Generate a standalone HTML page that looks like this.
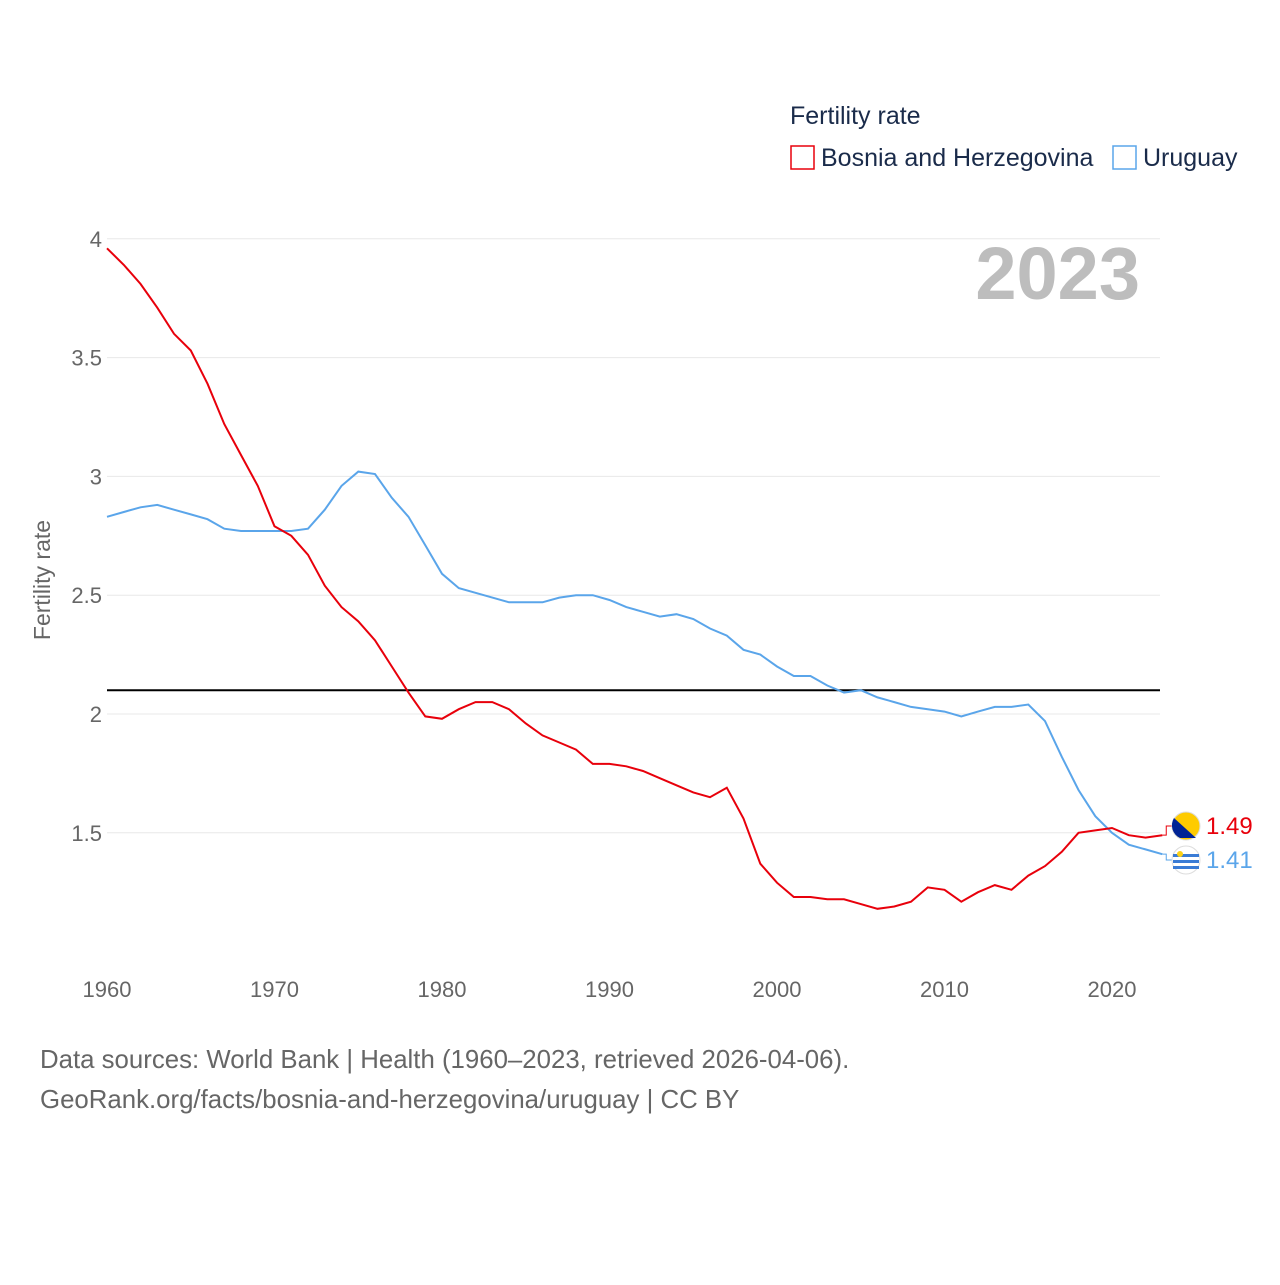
<!DOCTYPE html>
<html><head><meta charset="utf-8"><style>
body{margin:0;background:#fff;}
svg text{font-family:"Liberation Sans",sans-serif;}
</style></head><body>
<svg width="1280" height="1280" viewBox="0 0 1280 1280">
<g id="grid"></g>
<g id="lines"></g>
<text x="790" y="124" font-size="25" fill="#1a2b4a">Fertility rate</text>
<g><rect x="791" y="146" width="23" height="23" fill="none" stroke="#e8000b" stroke-width="1.5"/><text x="821" y="166" font-size="25" fill="#1a2b4a">Bosnia and Herzegovina</text></g>
<g><rect x="1113" y="146" width="23" height="23" fill="none" stroke="#5aa5ea" stroke-width="1.5"/><text x="1143" y="166" font-size="25" fill="#1a2b4a">Uruguay</text></g>
<text x="1140" y="299" font-size="74" font-weight="bold" fill="#bdbdbd" text-anchor="end">2023</text>
<text transform="translate(50,580) rotate(-90)" font-size="23" fill="#666" text-anchor="middle">Fertility rate</text>
<text x="40" y="1068" font-size="25.8" fill="#666">Data sources: World Bank | Health (1960–2023, retrieved 2026-04-06).</text>
<text x="40" y="1108" font-size="25.8" fill="#666">GeoRank.org/facts/bosnia-and-herzegovina/uruguay | CC BY</text>
</svg>
<script>
const years=[];for(let y=1960;y<=2023;y++)years.push(y);
const bosnia=[3.96,3.89,3.81,3.71,3.60,3.53,3.39,3.22,3.09,2.96,2.79,2.75,2.67,2.54,2.45,2.39,2.31,2.20,2.09,1.99,1.98,2.02,2.05,2.05,2.02,1.96,1.91,1.88,1.85,1.79,1.79,1.78,1.76,1.73,1.70,1.67,1.65,1.69,1.56,1.37,1.29,1.23,1.23,1.22,1.22,1.20,1.18,1.19,1.21,1.27,1.26,1.21,1.25,1.28,1.26,1.32,1.36,1.42,1.50,1.51,1.52,1.49,1.48,1.49];
const uruguay=[2.83,2.85,2.87,2.88,2.86,2.84,2.82,2.78,2.77,2.77,2.77,2.77,2.78,2.86,2.96,3.02,3.01,2.91,2.83,2.71,2.59,2.53,2.51,2.49,2.47,2.47,2.47,2.49,2.50,2.50,2.48,2.45,2.43,2.41,2.42,2.40,2.36,2.33,2.27,2.25,2.20,2.16,2.16,2.12,2.09,2.10,2.07,2.05,2.03,2.02,2.01,1.99,2.01,2.03,2.03,2.04,1.97,1.82,1.68,1.57,1.50,1.45,1.43,1.41];
const yTicks=[1.5,2,2.5,3,3.5,4];
const xTicks=[1960,1970,1980,1990,2000,2010,2020];
const replacement=[2.1];
const NS='http://www.w3.org/2000/svg';
const X=v=>107+(v-1960)*16.75;
const Y=v=>714-(v-2)*237.6;
function mk(tag,attrs,parent){const e=document.createElementNS(NS,tag);for(const k in attrs)e.setAttribute(k,attrs[k]);parent.appendChild(e);return e;}
const grid=document.getElementById('grid'),lines=document.getElementById('lines');
yTicks.forEach(t=>{
 const l=mk('line',{x1:107,x2:1160,y1:Y(t),y2:Y(t),stroke:'#e8e8e8','stroke-width':1},grid);
 
 
 const tx=mk('text',{x:102,y:Y(t)+8,'font-size':22,fill:'#666','text-anchor':'end'},grid);
 tx.textContent=String(t);
 
 
});
xTicks.forEach(t=>{
 const tx=mk('text',{x:X(t),y:997,'font-size':22,fill:'#666','text-anchor':'middle'},grid);
 tx.textContent=String(t);
 
 
});
replacement.forEach(v=>{
 const l=mk('line',{x1:107,x2:1160,y1:Y(v),y2:Y(v),stroke:'#000','stroke-width':2},lines);
 
 
});
function series(data,color,name,flagY){
 const d=data.map((v,i)=>(i?'L':'M')+X(years[i]).toFixed(1)+','+Y(v).toFixed(1)).join('');
 const p=mk('path',{d:d,fill:'none',stroke:color,'stroke-width':2},lines);
 
 
 const last=data[data.length-1],lx=X(2023),ly=Y(last);
 mk('path',{d:`M${lx},${ly}H${lx+4}V${flagY}H1172`,fill:'none',stroke:color,'stroke-width':1},lines);
 const c=mk('circle',{cx:1186,cy:flagY,r:14,fill:name==='bosnia'?'#fecb00':'#fff',stroke:'#ddd'},lines);
 
 
 if(name==='bosnia'){mk('path',{d:`M1174,${flagY-8}L1196,${flagY+12}L1180,${flagY+12}A14,14 0 0 1 1174,${flagY-8}Z`,fill:'#002395'},lines);}
 else{[-6,0,6].forEach(o=>mk('rect',{x:1173,y:flagY+o,width:26,height:3,fill:'#3a7bd5'},lines));mk('circle',{cx:1180,cy:flagY-6,r:3,fill:'#fcd116'},lines);}
 const t=mk('text',{x:1206,y:flagY+8,'font-size':24,fill:color},lines);
 t.textContent=last.toFixed(2);
 
 
}
series(uruguay,'#5aa5ea','uruguay',860);
series(bosnia,'#e8000b','bosnia',826);
</script>
</body></html>
